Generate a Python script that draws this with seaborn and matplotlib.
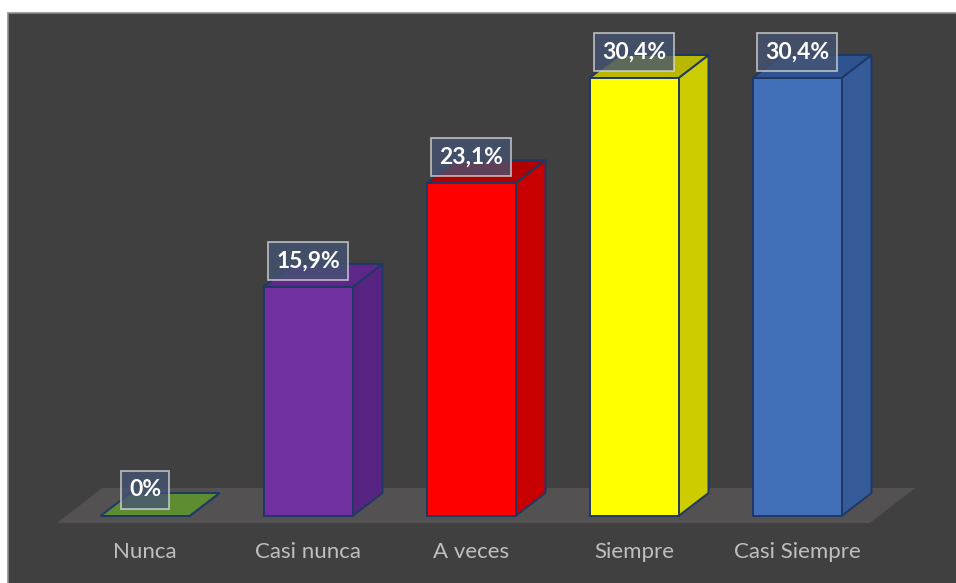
import matplotlib
matplotlib.use("Agg")
import matplotlib.pyplot as plt
from matplotlib.patches import Polygon, Rectangle
import seaborn as sns
import pandas as pd

categories = ["Nunca", "Casi nunca", "A veces", "Siempre", "Casi Siempre"]
values = [0.0, 15.9, 23.1, 30.4, 30.4]
labels = ["0%", "15,9%", "23,1%", "30,4%", "30,4%"]

front_colors = ["#5E8C31", "#7030A0", "#FF0000", "#FFFF00", "#4270B8"]
side_colors = ["#4C7327", "#582482", "#C80000", "#CCCC00", "#355C99"]
top_colors = ["#557F2C", "#5E2789", "#B00000", "#B8B800", "#2F5390"]
edge = "#1F3864"

sns.set_style("white")
plt.rcParams["font.family"] = ["Lato", "DejaVu Sans"]

W, H = 956, 583
fig = plt.figure(figsize=(W / 100, H / 100), dpi=100)
fig.patch.set_facecolor("white")

# dark panel
panel = Rectangle((8 / W, -0.05), 1.2, (H - 13) / H + 0.05, transform=fig.transFigure,
                  facecolor="#404040", edgecolor="#8C8C8C", lw=1.2, zorder=-10)
fig.patches.append(panel)

# axes in pixel layout
L, R = 40, 940
top_px, bot_px = 20, 570
ax = fig.add_axes([L / W, (H - bot_px) / H, (R - L) / W, (bot_px - top_px) / H])
ax.set_zorder(5)
ax.patch.set_visible(False)

pxu_x = 163.0
xa = -(145 - L) / pxu_x
xb = xa + (R - L) / pxu_x
pxu_y = (516 - 78) / 30.4
ya = -(bot_px - 516) / pxu_y
yb = (516 - top_px) / pxu_y

df = pd.DataFrame({"cat": categories, "val": values})
sns.barplot(data=df, x="cat", y="val", hue="cat", palette=front_colors,
            legend=False, width=89 / 163, edgecolor=edge, linewidth=1.4,
            saturation=1, ax=ax, zorder=3)
ax.set_xlim(xa, xb)
ax.set_ylim(ya, yb)

dx = 30 / pxu_x
dy = 23 / pxu_y

bars = [pp for pp in ax.patches if isinstance(pp, Rectangle)]

# floor
fx0b = (57 - 145) / pxu_x
fx0t = (102 - 145) / pxu_x
fx1b = (870 - 145) / pxu_x
fx1t = (915 - 145) / pxu_x
fyb = -(523 - 516) / pxu_y
fyt = (516 - 488) / pxu_y
ax.add_patch(Polygon([(fx0b, fyb), (fx1b, fyb), (fx1t, fyt), (fx0t, fyt)],
                     closed=True, facecolor="#535151", edgecolor="none", zorder=1))

for i, p in enumerate(bars):
    x0 = p.get_x()
    x1 = x0 + p.get_width()
    h = p.get_height()
    side = Polygon([(x1, 0), (x1 + dx, dy), (x1 + dx, h + dy), (x1, h)], closed=True,
                   facecolor=side_colors[i], edgecolor=edge, lw=1.4, zorder=2.5)
    top = Polygon([(x0, h), (x1, h), (x1 + dx, h + dy), (x0 + dx, h + dy)], closed=True,
                  facecolor=top_colors[i] if h > 0 else front_colors[i],
                  edgecolor=edge, lw=1.4, zorder=2.6)
    ax.add_patch(side)
    ax.add_patch(top)

for i, (v, lab) in enumerate(zip(values, labels)):
    ax.text(i, v + 26 / pxu_y, lab, ha="center", va="center", color="white",
            fontsize=16.5, fontweight="bold", zorder=6,
            bbox=dict(boxstyle="square,pad=0.36", facecolor=(0.27, 0.33, 0.45, 0.78),
                      edgecolor=(0.85, 0.85, 0.85, 0.75), lw=1.3))
    ax.text(i, -(552 - 516) / pxu_y, categories[i], ha="center", va="center",
            color="#BFBFBF", fontsize=16, zorder=6)

ax.set_xticks([])
ax.set_yticks([])
ax.set_xlabel("")
ax.set_ylabel("")
for s in ax.spines.values():
    s.set_visible(False)

fig.savefig("out.png", dpi=100, facecolor=fig.get_facecolor())
